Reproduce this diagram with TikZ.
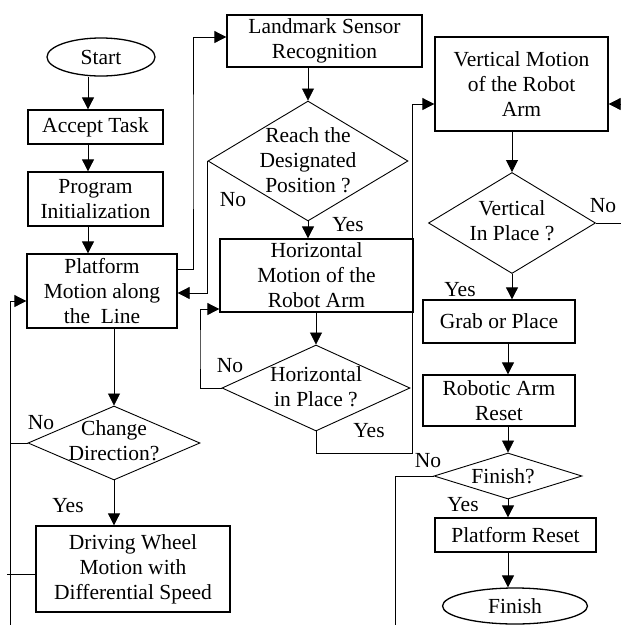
\documentclass[tikz,border=0pt]{standalone}
\usepackage{fontspec}
\setmainfont{Liberation Serif}
\usetikzlibrary{arrows.meta,shapes.geometric}
\newcommand\figfont{\fontsize{21.5}{25}\selectfont}
\begin{document}
\begin{tikzpicture}[x=1pt,y=-1pt,
  box/.style={draw,line width=1.3pt,inner sep=0pt,align=center,font=\figfont},
  oval/.style={draw,ellipse,line width=1.3pt,inner sep=0pt,font=\figfont},
  dia/.style={draw,diamond,line width=0.9pt,inner sep=0pt},
  txt/.style={inner sep=0pt,align=center,font=\figfont},
  conn/.style={line width=0.8pt},
  arr/.style={line width=0.8pt,-{Triangle[width=12pt,length=12pt]}}]
\useasboundingbox (0,0) rectangle (621,625);
% left column
\node[oval,minimum width=108pt,minimum height=38pt] (start) at (101,57) {Start};
\node[box,minimum width=135pt,minimum height=34pt] (accept) at (95.5,127) {Accept Task};
\node[box,minimum width=135pt,minimum height=54pt] (prog) at (95.5,199) {Program\\Initialization};
\node[box,minimum width=150pt,minimum height=74pt] (plat) at (102,291) {Platform\\Motion along\\the~ Line};
\node[dia,minimum width=172pt,minimum height=74pt] (change) at (114,443) {};
\node[txt] (changet) at (114,441) {Change\\Direction?};
\node[box,minimum width=194pt,minimum height=86pt] (drive) at (133,569) {Driving Wheel\\Motion with\\Differential Speed};
% middle column
\node[box,minimum width=195pt,minimum height=52pt] (land) at (324.5,41) {Landmark Sensor\\Recognition};
\node[dia,minimum width=200pt,minimum height=120pt] (reach) at (308,161) {};
\node[txt] (reacht) at (308,160) {Reach the\\Designated\\Position ?};
\node[box,minimum width=193pt,minimum height=73pt] (horiz) at (316.5,275.5) {Horizontal\\Motion of the\\Robot Arm};
\node[dia,minimum width=188pt,minimum height=86pt] (hplace) at (316,388) {};
\node[txt] (hplacet) at (316,387) {Horizontal\\in Place ?};
% right column
\node[box,minimum width=173pt,minimum height=94pt] (vert) at (521.5,84) {Vertical Motion\\of the Robot\\Arm};
\node[dia,minimum width=167pt,minimum height=101pt] (vplace) at (512,223) {};
\node[txt] (vplacet) at (512,221) {Vertical\\In Place ?};
\node[box,minimum width=152pt,minimum height=43pt] (grab) at (499,321.5) {Grab or Place};
\node[box,minimum width=152pt,minimum height=51pt] (reset) at (499,400.5) {Robotic Arm\\Reset};
\node[dia,minimum width=148pt,minimum height=46pt] (fin) at (508,476) {};
\node[txt] (fint) at (503,476) {Finish?};
\node[box,minimum width=161pt,minimum height=34pt] (preset) at (515.5,535) {Platform Reset};
\node[oval,minimum width=145pt,minimum height=36pt] (finish) at (515,606) {Finish};
% labels
\node[txt] (l1) at (233,200) {No};
\node[txt] (l2) at (348,225) {Yes};
\node[txt] (l3) at (230,366) {No};
\node[txt] (l4) at (369,431) {Yes};
\node[txt] (l5) at (41,423) {No};
\node[txt] (l6) at (68,506) {Yes};
\node[txt] (l7) at (603,206) {No};
\node[txt] (l8) at (460,290) {Yes};
\node[txt] (l9) at (428,461) {No};
\node[txt] (l10) at (463,505) {Yes};
% helper coordinates
\coordinate (ax) at (88,0);
\coordinate (Lx) at (10,0);
\coordinate (Lbot) at (10,630);
\coordinate (c1) at (193,150);
\coordinate (c2) at (200,350);
\coordinate (c3) at (412,453);
\coordinate (c4) at (624,150);
\coordinate (c5) at (395,630);
% connectors
\draw[arr] (start.south -| ax) -- (accept.north -| ax);
\draw[arr] (accept.south -| ax) -- (prog.north -| ax);
\draw[arr] (prog.south -| ax) -- (plat.north -| ax);
\draw[arr] (plat.south -| change.north) -- (change.north);
\draw[arr] (change.south) -- (change.south |- drive.north);
\draw[conn] (change.west) -- (change.west -| Lx);
\draw[conn] ([yshift=-5pt]drive.west) -- ++(-28,0);
\draw[arr] (Lbot) |- ([yshift=-10pt]plat.west);
\draw[arr] ([yshift=22pt]plat.east) -| (c1) |- ([yshift=4pt]land.west);
\draw[arr] (land.south -| reach.north) -- (reach.north);
\draw[arr] (reach.south) -- (reach.south |- horiz.north);
\draw[arr] (reach.west) |- ([yshift=-2pt]plat.east);
\draw[arr] (horiz.south -| hplace.north) -- (hplace.north);
\draw[arr] (hplace.west) -| (c2) |- ([yshift=-33.5pt]horiz.west);
\draw[arr] (hplace.south) |- (c3) |- ([yshift=-20pt]vert.west);
\draw[arr] (vert.south -| vplace.north) -- (vplace.north);
\draw[arr] (vplace.east) -| (c4) |- ([yshift=-20pt]vert.east);
\draw[arr] (vplace.south) -- (vplace.south |- grab.north);
\draw[arr] (grab.south -| fin.north) -- (reset.north -| fin.north);
\draw[arr] (reset.south -| fin.north) -- (fin.north);
\draw[arr] (fin.south) -- (fin.south |- preset.north);
\draw[arr] (preset.south -| fin.south) -- (finish.north -| fin.south);
\draw[conn] (fin.west) -| (c5);
\end{tikzpicture}
\end{document}
